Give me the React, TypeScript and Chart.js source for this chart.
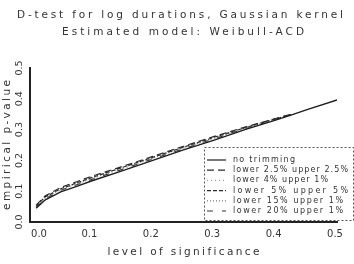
import React, { useEffect, useRef } from "react";
import { Chart, registerables } from "chart.js";

Chart.register(...registerables);

const TITLE_LINES = ["D-test for log durations, Gaussian kernel", "Estimated model: Weibull-ACD"];
const X_TITLE = "level of significance";
const Y_TITLE = "empirical p-value";

const LEVELS = [0.01, 0.025, 0.05, 0.075, 0.1, 0.15, 0.2, 0.25, 0.3, 0.35, 0.4, 0.425, 0.45, 0.5];

const NO_TRIM = [0.045, 0.072, 0.098, 0.115, 0.133, 0.166, 0.2, 0.234, 0.266, 0.3, 0.331, 0.347, 0.364, 0.396];
const TRIM_25_25 = [0.055, 0.085, 0.112, 0.13, 0.148, 0.18, 0.213, 0.246, 0.278, 0.308, 0.336, 0.35, null, null];
const TRIM_4_1 = [0.05, 0.078, 0.105, 0.122, 0.14, 0.173, 0.207, 0.24, 0.272, 0.304, 0.334, 0.348, null, null];
const TRIM_5_5 = [0.052, 0.082, 0.108, 0.126, 0.144, 0.177, 0.21, 0.243, 0.275, 0.306, 0.335, 0.349, null, null];
const TRIM_15_1 = [0.05, 0.08, 0.106, 0.124, 0.142, 0.175, 0.208, 0.241, 0.273, 0.305, 0.334, 0.348, null, null];
const TRIM_20_1 = [0.048, 0.076, 0.103, 0.12, 0.138, 0.171, 0.205, 0.238, 0.27, 0.303, 0.333, 0.347, null, null];

const SERIES_LABELS = [
  "no trimming",
  "lower 2.5% upper 2.5%",
  "lower 4% upper 1%",
  "lower 5% upper 5%",
  "lower 15% upper 1%",
  "lower 20% upper 1%",
];
const SERIES_VALUES = [NO_TRIM, TRIM_25_25, TRIM_4_1, TRIM_5_5, TRIM_15_1, TRIM_20_1];
const SERIES_DASH = [[], [7, 4], [1, 3], [4, 2], [1, 2], [6, 9]];
const SERIES_COLOR = ["#1e1e1e", "#2a2a2a", "#9a9a9a", "#2a2a2a", "#777777", "#333333"];
const LEGEND_TEXT_WIDTH = [62, 115, 95, 115, 110, 110];

const FONT = "'DejaVu Sans', sans-serif";

function drawSpaced(ctx: CanvasRenderingContext2D, text: string, cx: number, cy: number, width: number, size: number, rot = 0, align: "center" | "left" = "center") {
  ctx.font = `${size}px ${FONT}`;
  (ctx as any).letterSpacing = "0px";
  const w = ctx.measureText(text).width;
  const sp = width ? Math.max(0, (width - w) / Math.max(1, text.length - 1)) : 0;
  (ctx as any).letterSpacing = `${sp}px`;
  const w2 = w + sp * (text.length - 1);
  ctx.save();
  ctx.translate(cx, cy);
  ctx.rotate(rot);
  ctx.textAlign = "left";
  ctx.textBaseline = "middle";
  ctx.fillText(text, align === "center" ? -w2 / 2 : 0, 0);
  ctx.restore();
  (ctx as any).letterSpacing = "0px";
}

const textPlugin = {
  id: "scanTexts",
  afterDraw(chart: any) {
    const ctx: CanvasRenderingContext2D = chart.ctx;
    const xs = chart.scales.x;
    const ys = chart.scales.y;
    const area = chart.chartArea;
    ctx.save();
    ctx.fillStyle = "#333";
    // titles
    drawSpaced(ctx, TITLE_LINES[0], 180, 15, 326, 10.5);
    drawSpaced(ctx, TITLE_LINES[1], 183, 32, 242, 10.5);
    // x ticks
    for (const t of xs.ticks) {
      const px = xs.getPixelForValue(t.value);
      const lbl = Number(t.value).toFixed(1);
      drawSpaced(ctx, lbl, px + (t.value === 0 ? 9 : -2), area.bottom + 12, 14, 10);
    }
    drawSpaced(ctx, X_TITLE, (area.left + area.right) / 2, area.bottom + 30, 152, 10.5);
    // y ticks rotated
    for (const t of ys.ticks) {
      const py = ys.getPixelForValue(t.value);
      const lbl = Number(t.value).toFixed(1);
      drawSpaced(ctx, lbl, 20, py, 12, 9.5, -Math.PI / 2);
    }
    drawSpaced(ctx, Y_TITLE, 7, (area.top + area.bottom) / 2, 130, 10.5, -Math.PI / 2);

    // legend
    const bx = 204, by = 147, bw = 149, bh = 73;
    ctx.strokeStyle = "#555";
    ctx.lineWidth = 1;
    ctx.setLineDash([2, 2]);
    ctx.strokeRect(bx + 0.5, by + 0.5, bw, bh);
    ctx.setLineDash([]);
    chart.data.datasets.forEach((ds: any, i: number) => {
      const ry = 160 + i * 10.2;
      ctx.strokeStyle = ds.borderColor;
      ctx.lineWidth = 1.2;
      ctx.setLineDash(ds.borderDash || []);
      ctx.beginPath();
      ctx.moveTo(207, ry);
      ctx.lineTo(226, ry);
      ctx.stroke();
      ctx.setLineDash([]);
      ctx.fillStyle = "#333";
      drawSpaced(ctx, ds.label, 233, ry, LEGEND_TEXT_WIDTH[i], 8, 0, "left");
    });
    ctx.restore();
  },
};

export default function App() {
  const ref = useRef<HTMLCanvasElement>(null);
  useEffect(() => {
    if (!ref.current) return;
    const datasets = SERIES_LABELS.map((label, i) => ({
      label,
      data: LEVELS.map((l, j) => ({ x: l, y: SERIES_VALUES[i][j] })),
      borderColor: SERIES_COLOR[i],
      borderDash: SERIES_DASH[i],
      borderWidth: i === 0 ? 1.4 : 1.2,
      pointRadius: 0,
      fill: false,
      tension: 0,
      order: i === 0 ? 0 : 1,
    }));
    const chart = new Chart(ref.current, {
      type: "line",
      data: { datasets },
      options: {
        animation: false,
        responsive: false,
        events: [],
        layout: { padding: { left: 30, right: 17, top: 68, bottom: 42 } },
        plugins: { legend: { display: false }, title: { display: false }, tooltip: { enabled: false } },
        scales: {
          x: {
            type: "linear",
            min: 0,
            max: 0.5,
            ticks: { display: false, stepSize: 0.1 },
            grid: { display: false },
            border: { display: true, color: "#222", width: 2 },
            afterFit: (s: any) => { s.height = 0; },
          },
          y: {
            type: "linear",
            min: 0,
            max: 0.5,
            ticks: { display: false, stepSize: 0.1 },
            grid: { display: false },
            border: { display: true, color: "#222", width: 2 },
            afterFit: (s: any) => { s.width = 0; },
          },
        },
      },
      plugins: [textPlugin],
    });
    return () => chart.destroy();
  }, []);
  return (
    <div style={{ position: "fixed", left: 0, top: 0, width: 354, height: 264, background: "#fff" }}>
      <canvas ref={ref} width={354} height={264} style={{ width: 354, height: 264 }} />
    </div>
  );
}
